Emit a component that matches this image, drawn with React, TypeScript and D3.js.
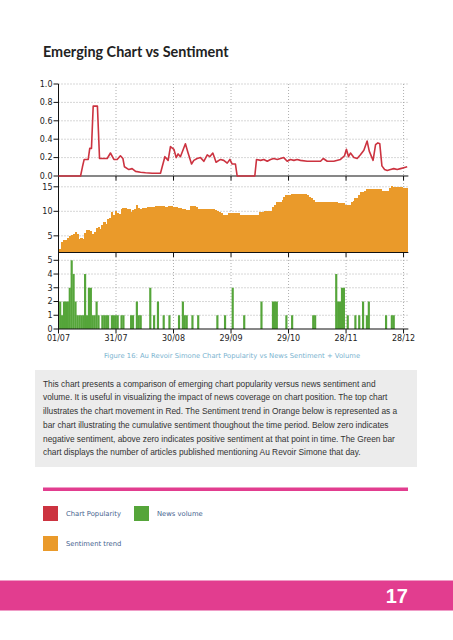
import React from 'react';
import * as d3 from 'd3';

// ---------- DATA ----------
const tickDays = [0, 30, 60, 90, 120, 150, 180];
const tickLabels = ['01/07', '31/07', '30/08', '29/09', '29/10', '28/11', '28/12'];

const popTicks = [0, 0.2, 0.4, 0.6, 0.8, 1.0];
const sentTicks = [5, 10, 15];
const volTicks = [0, 1, 2, 3, 4, 5];

// Chart popularity (red line): day offset from 01/07 and value
const popularityDays = [0, 11.5, 12.5, 13.4, 15.5, 16.3, 17.2, 18.1, 20.3, 21.4,
  25.4, 27.1, 28.9, 30.6, 32.3, 33.6, 34.4, 36.7, 38.4, 40.2,
  42.8, 45.4, 48.9, 53.2, 54.1, 55.5, 57.2, 58.4, 60.2, 61.4,
  62.4, 63.6, 64.9, 66.2, 67.6, 69.4, 70.6, 72.3, 74.1, 75.8,
  77.6, 78.9, 80.5, 82.2, 84.5, 86.2, 88, 89.4, 90.6, 92.3,
  93.2, 102.4, 103.3, 105.4, 107.1, 108.9, 110.6, 112.3, 114.1, 115.8,
  117.5, 119.3, 121, 122.8, 124.5, 126.2, 129.7, 133.2, 136.7, 138.1,
  140.2, 143.6, 147.1, 149.2, 150.2, 151.3, 152.3, 154.1, 155.8, 157.5,
  159.3, 161, 162.1, 164.1, 165.4, 166.6, 167.6, 168.7, 170.1, 171.5,
  173.2, 174.9, 176.7, 178.4, 180.1, 181.9];
const popularityValues = [0, 0, 0.1, 0.18, 0.18, 0.3, 0.3, 0.76, 0.76, 0.19,
  0.19, 0.25, 0.18, 0.18, 0.22, 0.19, 0.1, 0.07, 0.08, 0.05,
  0.04, 0.035, 0.03, 0.03, 0.1, 0.21, 0.17, 0.32, 0.29, 0.2,
  0.24, 0.21, 0.28, 0.35, 0.25, 0.13, 0.17, 0.19, 0.2, 0.16,
  0.23, 0.21, 0.25, 0.15, 0.18, 0.17, 0.14, 0.18, 0.13, 0.13,
  0, 0, 0.18, 0.17, 0.18, 0.16, 0.18, 0.19, 0.18, 0.19,
  0.2, 0.16, 0.18, 0.17, 0.18, 0.17, 0.16, 0.16, 0.16, 0.19,
  0.16, 0.16, 0.18, 0.22, 0.29, 0.21, 0.25, 0.2, 0.19, 0.23,
  0.28, 0.38, 0.27, 0.17, 0.34, 0.36, 0.35, 0.11, 0.07, 0.06,
  0.07, 0.08, 0.07, 0.08, 0.09, 0.1];

// Sentiment trend (orange bars), one per day from 01/07
const sentiment = [
  2.3, 3.7, 4.2, 4.1, 4.5, 4.9, 5.1, 5.3, 5.7, 5.3,
  4.4, 4.5, 4.4, 5.6, 6.1, 6.2, 5.9, 5.4, 5.7, 6.5,
  6.9, 6.3, 7.2, 7.8, 7.4, 8.4, 8.6, 9.8, 9.3, 10.1,
  9.7, 9.4, 10.5, 10.6, 10.6, 10.5, 10.5, 9.9, 10.3, 10.5,
  11.3, 10.7, 10.5, 10.6, 10.7, 10.7, 10.8, 10.8, 10.9, 10.9,
  11.0, 11.0, 11.1, 11.1, 11.1, 10.8, 10.8, 11.0, 11.0, 10.9,
  10.9, 10.8, 10.7, 10.6, 10.5, 10.4, 10.3, 10.2, 11.0, 11.1,
  11.1, 10.9, 10.5, 10.5, 10.5, 10.5, 10.5, 10.5, 10.5, 10.5,
  10.5, 10.3, 10.1, 9.8, 9.7, 9.3, 9.3, 9.3, 9.7, 9.7,
  9.7, 9.7, 9.7, 9.7, 9.3, 9.3, 9.3, 9.3, 9.3, 9.3,
  9.3, 9.3, 9.3, 9.3, 9.8, 9.9, 9.9, 10.0, 10.1, 10.1,
  10.1, 10.8, 11.3, 11.8, 12.0, 12.0, 12.4, 13.0, 13.3, 13.3,
  13.4, 13.5, 13.5, 13.6, 13.6, 13.6, 13.6, 13.6, 13.6, 13.3,
  13.0, 12.8, 12.3, 11.8, 11.8, 11.8, 11.8, 11.8, 11.8, 11.8,
  11.8, 11.8, 11.8, 11.8, 11.8, 11.6, 11.6, 11.6, 11.6, 11.2,
  11.2, 11.2, 11.8, 12.2, 12.8, 12.8, 13.3, 13.9, 14.0, 14.2,
  14.5, 14.5, 14.5, 14.5, 14.5, 14.5, 14.5, 14.5, 14.2, 14.2,
  14.2, 14.2, 14.7, 15.2, 14.9, 14.9, 14.9, 14.9, 14.9, 14.7,
  14.7, 14.7];

// News volume (green bars), one per day from 01/07
const newsVolume = [
  2, 1, 2, 2, 2, 3, 5, 4, 2, 1,
  1, 1, 1, 4, 1, 3, 3, 1, 1, 2,
  1, 0, 1, 1, 1, 1, 0, 1, 1, 1,
  1, 0, 1, 1, 0, 0, 0, 1, 1, 0,
  2, 1, 1, 0, 0, 0, 0, 3, 0, 1,
  0, 2, 0, 0, 1, 0, 0, 1, 0, 0,
  0, 0, 1, 0, 2, 1, 1, 0, 0, 1,
  0, 0, 1, 0, 0, 0, 0, 0, 0, 0,
  0, 0, 1, 0, 0, 0, 1, 0, 0, 0,
  3, 0, 0, 0, 0, 0, 1, 0, 0, 0,
  0, 0, 0, 0, 0, 2, 0, 0, 0, 0,
  0, 2, 2, 2, 0, 0, 0, 0, 1, 0,
  0, 1, 0, 0, 0, 0, 0, 0, 0, 0,
  0, 0, 1, 1, 0, 0, 0, 0, 0, 0,
  0, 0, 0, 0, 4, 2, 2, 3, 3, 0,
  1, 0, 0, 0, 1, 0, 1, 0, 2, 0,
  1, 2, 0, 0, 0, 0, 0, 0, 0, 0,
  1, 0, 0, 1, 1, 0, 0, 0, 0, 0,
  0, 0];

const titleText = 'Emerging Chart vs Sentiment';
const captionText = 'Figure 16: Au Revoir Simone Chart Popularity vs News Sentiment + Volume';
const paragraphLines = [
  'This chart presents a comparison of emerging chart popularity versus news sentiment and',
  'volume. It is useful in visualizing the impact of news coverage on chart position. The top chart',
  'illustrates the chart movement in Red. The Sentiment trend in Orange below is represented as a',
  'bar chart illustrating the cumulative sentiment thoughout the time period. Below zero indicates',
  'negative sentiment, above zero indicates positive sentiment at that point in time. The Green bar',
  'chart displays the number of articles published mentioning Au Revoir Simone that day.',
];
const legendLabels = ['Chart Popularity', 'News volume', 'Sentiment trend'];
const pageNumber = '17';

// ---------- STYLE ----------
const RED = '#cc3340';
const ORANGE = '#ea9a2a';
const GREEN = '#55a53a';
const PINK = '#e23d8f';
const GRID = '#9a9a9a';
const AXIS_FONT = 'DejaVu Sans, sans-serif';

export default function App() {
  const W = 453;
  const H = 640;
  const xLeft = 58.5;
  const dayW = 1.917;
  const x = d3.scaleLinear().domain([0, 180]).range([xLeft, xLeft + 180 * dayW]);
  const xRight = x(182.5);

  const yPop = d3.scaleLinear().domain([0, 1]).range([176, 84]);
  const ySent = d3.scaleLinear().domain([1.6, 17]).range([252.5, 177]);
  const yVol = d3.scaleLinear().domain([0, 5]).range([329, 260.3]);

  const panels = [
    { top: 84, bottom: 176 },
    { top: 177, bottom: 252.5 },
    { top: 257, bottom: 329 },
  ];

  const popLine = d3
    .line<number>()
    .x((d, i) => x(popularityDays[i]))
    .y((d) => yPop(d))(popularityValues) as string;

  const vGrid = (top: number, bottom: number, key: string) =>
    tickDays.slice(1).map((t) => (
      <line key={key + t} x1={x(t)} x2={x(t)} y1={top} y2={bottom}
        stroke={GRID} strokeWidth={0.8} strokeDasharray="1,2" />
    ));
  const hGrid = (scale: any, ticks: number[], key: string) =>
    ticks.map((t) => (
      <line key={key + t} x1={xLeft} x2={xRight} y1={scale(t)} y2={scale(t)}
        stroke={GRID} strokeWidth={0.8} strokeDasharray="1,2" />
    ));
  const yAxis = (scale: any, ticks: number[], fmt: (v: number) => string, key: string) =>
    ticks.map((t) => (
      <g key={key + t}>
        <line x1={xLeft - 5} x2={xLeft} y1={scale(t)} y2={scale(t)} stroke="#111" strokeWidth={1} />
        <text x={xLeft - 6} y={scale(t)} dy="0.35em" textAnchor="end" fontSize={8}
          fontFamily={AXIS_FONT} fill="#222">{fmt(t)}</text>
      </g>
    ));
  const xTicks = (y: number, key: string) =>
    tickDays.map((t) => (
      <line key={key + t} x1={x(t)} x2={x(t)} y1={y} y2={y + 4.5} stroke="#111" strokeWidth={1} />
    ));

  const legendPos = [
    { x: 43, y: 506, c: RED },
    { x: 134, y: 506, c: GREEN },
    { x: 43, y: 536, c: ORANGE },
  ];

  return (
    <svg width={W} height={H} style={{ position: 'absolute', left: 0, top: 0, background: '#fff' }}>
      <rect x={0} y={0} width={W} height={H} fill="#fff" />
      <text x={43} y={57} fontFamily="Lato, sans-serif" fontWeight="bold" fontSize={14.4}
        fill="#222">{titleText}</text>

      {/* Panel 1: popularity */}
      {hGrid(yPop, popTicks.slice(1), 'hp')}
      {vGrid(panels[0].top, panels[0].bottom, 'vp')}

      {/* Panel 2: sentiment */}
      {hGrid(ySent, sentTicks, 'hs')}
      {vGrid(panels[1].top, panels[1].bottom, 'vs')}
      <g shapeRendering="crispEdges">
        {sentiment.map((v, i) => (
          <rect key={'s' + i} x={x(i) + 0.7} width={dayW + 0.4} y={ySent(v)}
            height={ySent(1.6) - ySent(v)} fill={ORANGE} />
        ))}
      </g>

      {/* Panel 3: volume */}
      {hGrid(yVol, volTicks.slice(1), 'hv')}
      {vGrid(panels[2].top, panels[2].bottom, 'vv')}
      {newsVolume.map((v, i) =>
        v > 0 ? (
          <rect key={'v' + i} x={x(i) + 0.6} width={dayW + 0.25} y={yVol(v)}
            height={yVol(0) - yVol(v)} fill={GREEN} />
        ) : null
      )}

      {/* Axes */}
      <line x1={xLeft} x2={xLeft} y1={panels[0].top} y2={panels[2].bottom} stroke="#111" strokeWidth={1} />
      {panels.map((p, i) => (
        <line key={'ax' + i} x1={xLeft} x2={xRight} y1={p.bottom} y2={p.bottom} stroke="#111" strokeWidth={1.2} />
      ))}
      {xTicks(panels[0].bottom, 'xt0')}
      {xTicks(panels[1].bottom, 'xt1')}
      {xTicks(panels[2].bottom, 'xt2')}
      {yAxis(yPop, popTicks, (v) => v.toFixed(1), 'yp')}
      {yAxis(ySent, sentTicks, (v) => String(v), 'ys')}
      {yAxis(yVol, volTicks, (v) => String(v), 'yv')}
      {tickDays.map((t, i) => (
        <text key={'xl' + t} x={x(t)} y={340.5} textAnchor="middle" fontSize={8}
          fontFamily={AXIS_FONT} fill="#222">{tickLabels[i]}</text>
      ))}

      <path d={popLine} fill="none" stroke={RED} strokeWidth={1.6} strokeLinejoin="round" />

      {/* Caption */}
      <text x={232} y={358} textAnchor="middle" fontSize={6.8} fontFamily="DejaVu Sans, sans-serif"
        fill="#7ab3cf">{captionText}</text>

      {/* Text box */}
      <rect x={35} y={370} width={382} height={97} fill="#ececec" />
      {paragraphLines.map((line, i) => (
        <text key={'p' + i} x={43} y={386.7 + i * 13.7} fontSize={8.35}
          fontFamily="Liberation Sans, sans-serif" fill="#333">{line}</text>
      ))}

      {/* Pink rule */}
      <rect x={43} y={487.5} width={365} height={3.5} fill={PINK} />

      {/* Legend */}
      {legendPos.map((p, i) => (
        <g key={'lg' + i}>
          <rect x={p.x} y={p.y} width={15} height={15} fill={p.c} />
          <text x={p.x + 23} y={p.y + 10} fontSize={6.8} fontFamily="DejaVu Sans, sans-serif"
            fill="#46648f">{legendLabels[i]}</text>
        </g>
      ))}

      {/* Footer band */}
      <rect x={0} y={580.5} width={W} height={30} fill={PINK} />
      <text x={408} y={603} textAnchor="end" fontSize={20} fontWeight="bold"
        fontFamily="Liberation Sans, sans-serif" fill="#fff">{pageNumber}</text>
    </svg>
  );
}
